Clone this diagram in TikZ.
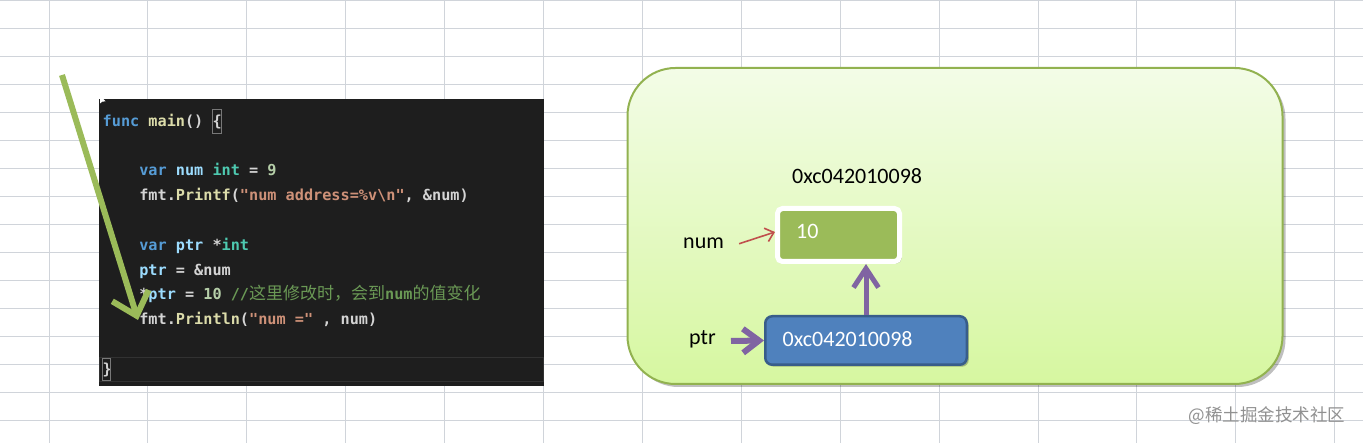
\documentclass[tikz,border=0pt]{standalone}
\usepackage{fontspec}
\setmainfont{Carlito}
\newfontfamily\codefont[Ligatures=TeXOff]{DejaVu Sans Mono}
\newfontfamily\cjk{Noto Sans CJK SC}
\usetikzlibrary{arrows.meta,shadows}

\definecolor{gridc}{RGB}{208,212,218}
\definecolor{codebg}{RGB}{30,30,30}
\definecolor{codehl}{RGB}{50,50,50}
\definecolor{ckw}{RGB}{86,156,214}
\definecolor{cfn}{RGB}{220,220,170}
\definecolor{cvar}{RGB}{156,220,254}
\definecolor{ctyp}{RGB}{78,201,176}
\definecolor{cnum}{RGB}{181,206,168}
\definecolor{cstr}{RGB}{206,145,120}
\definecolor{ccmt}{RGB}{106,153,85}
\definecolor{ctxt}{RGB}{212,212,212}
\definecolor{olivegr}{RGB}{155,187,89}
\definecolor{panelb}{RGB}{146,178,80}
\definecolor{paneltop}{RGB}{243,252,231}
\definecolor{panelbot}{RGB}{214,247,160}
\definecolor{pblue}{RGB}{79,129,189}
\definecolor{pbluedk}{RGB}{56,93,138}
\definecolor{purp}{RGB}{128,100,162}
\definecolor{redar}{RGB}{192,80,77}
\definecolor{wmark}{RGB}{145,145,145}

\newcommand\kwC[1]{\textcolor{ckw}{#1}}
\newcommand\fnC[1]{\textcolor{cfn}{#1}}
\newcommand\vrC[1]{\textcolor{cvar}{#1}}
\newcommand\tyC[1]{\textcolor{ctyp}{#1}}
\newcommand\nmC[1]{\textcolor{cnum}{#1}}
\newcommand\stC[1]{\textcolor{cstr}{#1}}
\newcommand\cmC[1]{\textcolor{ccmt}{#1}}
\newcommand\cjkC[1]{{\cjk\mdseries\fontsize{17}{18}\selectfont #1}}

\tikzset{
  gridline/.style={draw=gridc, line width=1pt},
  codeline/.style={anchor=base west, inner sep=0pt, text=ctxt,
    font=\codefont\fontsize{15.2}{18}\selectfont\bfseries},
  bracebox/.style={draw={rgb,255:red,120;green,120;blue,120}, line width=0.8pt},
  lbl/.style={anchor=base west, inner sep=0pt, font=\fontsize{22}{24}\selectfont, text=black},
  wlbl/.style={lbl, text=white},
  garrow/.style={draw=olivegr, line width=6pt, -{Straight Barb[length=21pt,width=38pt]}},
  parrow/.style={draw=purp, line width=5pt, -{Straight Barb[length=19pt,width=25pt]}},
  parrowb/.style={draw=purp, line width=6pt, -{Straight Barb[length=16pt,width=24pt]}},
  rarrow/.style={draw=redar, line width=1.6pt, -{Straight Barb[length=8pt,width=14pt]}},
  panel/.style={draw=panelb, line width=2pt, rounded corners=48pt,
    top color=paneltop, bottom color=panelbot,
    drop shadow={shadow xshift=3pt, shadow yshift=-3pt, opacity=0.25, fill=black}},
  valstyle/.style={draw=white, line width=5pt, fill=olivegr, rounded corners=5pt,
    minimum width=122pt, minimum height=53pt, inner sep=0pt,
    drop shadow={shadow xshift=2pt, shadow yshift=-2pt, opacity=0.3, fill=black}},
  ptrstyle/.style={draw=pbluedk, line width=2.5pt, fill=pblue, rounded corners=7pt,
    minimum width=201.5pt, minimum height=48.5pt, inner sep=0pt,
    drop shadow={shadow xshift=2pt, shadow yshift=-2pt, opacity=0.25, fill=black}}
}

\begin{document}
\begin{tikzpicture}[x=1pt, y=-1pt]
\useasboundingbox (0,0) rectangle (1363,443);
\fill[white] (0,0) rectangle (1363,443);

% spreadsheet grid
\foreach \k in {0,...,13} \draw[gridline] ({49+98.9*\k},0) -- ({49+98.9*\k},443);
\foreach \k in {0,...,15} \draw[gridline] (0,{1+28*\k}) -- (1363,{1+28*\k});

% code window
\fill[codebg] (99,99) rectangle (544,386);
\draw[draw=codehl, line width=1pt] (99.5,357.5) rectangle (543.5,382);
\fill[white] (100.2,95.5) -- (100.2,103.5) -- (102.2,101.6) -- (105.6,101.4) -- cycle;

\node[codeline] (L1) at (102.5,127) {\kwC{func} \fnC{main}() \{};
\node[codeline] (L2) at (139.1,176) {\kwC{var} \vrC{num} \tyC{int} = \nmC{9}};
\node[codeline] (L3) at (139.1,201) {fmt.\fnC{Printf}(\stC{"num address=\%v\textbackslash n"}, \&num)};
\node[codeline] (L4) at (139.1,251) {\kwC{var} \vrC{ptr} *\tyC{int}};
\node[codeline] (L5) at (139.1,276) {\vrC{ptr} = \&num};
\node[codeline] (L6) at (139.1,300) {*\vrC{ptr} = \nmC{10} \cmC{//\cjkC{这里修改时，会到}num\cjkC{的值变化}}};
\node[codeline] (L7) at (139.1,325) {fmt.\fnC{Println}(\stC{"num ="} , num)};
\node[codeline] (L8) at (102.5,375) {\}};
\draw[bracebox] (212.3,109.5) rectangle (221.7,133);
\draw[bracebox] (102.3,358.5) rectangle (110.7,380.5);

% green arrow
\coordinate (gs) at (62,75);
\coordinate (ge) at (138,320);
\draw[garrow] (gs) -- (ge);

% memory panel
\path[panel] (627.5,68) rectangle (1282.5,384);

\node[lbl] (addr) at (792,184) {0xc042010098};
\node[valstyle] (valbox) at (838.5,235) {};
\node[wlbl] (val) at (796,239) {10};
\node[lbl] (numlbl) at (683,249) {num};
\node[ptrstyle] (ptrbox) at (866,340.5) {};
\node[wlbl] (ptrval) at (782.5,347) {0xc042010098};
\node[lbl] (ptrlbl) at (689,345) {ptr};

\draw[rarrow] ([xshift=15pt]numlbl.east) -- ([yshift=3pt]valbox.west);
\draw[parrow] (ptrbox.north) -- (ptrbox.north |- valbox.south);
\coordinate (ps) at (731,341);
\draw[parrowb] (ps) -- (ptrbox.west);

% watermark
\node[inner sep=0pt, text=wmark, font=\cjk\fontsize{17.5}{19}\selectfont] (wm) at (1267,416) {@稀土掘金技术社区};
\end{tikzpicture}
\end{document}
